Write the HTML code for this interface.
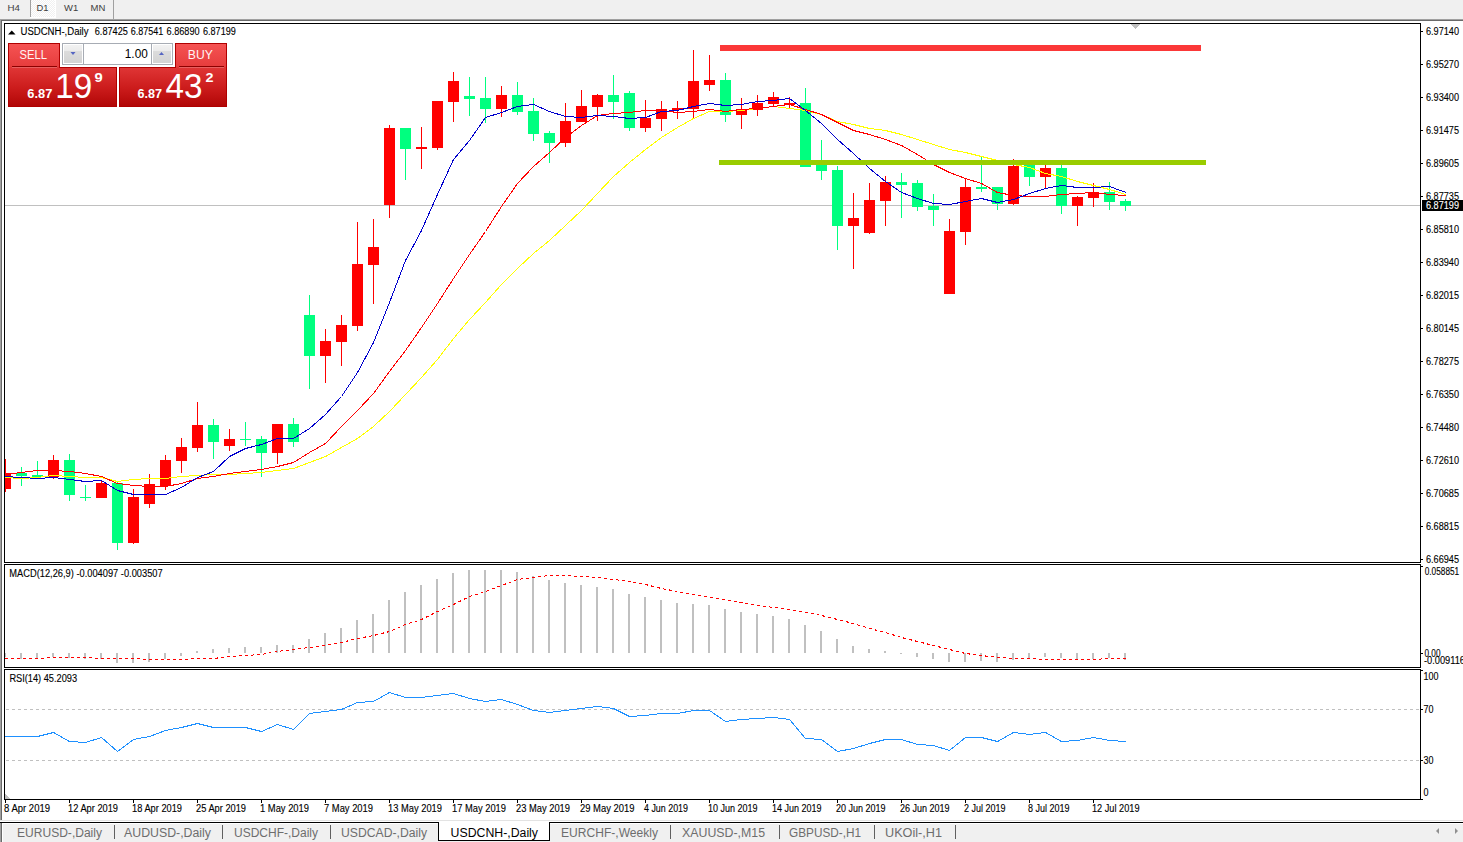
<!DOCTYPE html>
<html><head><meta charset="utf-8"><title>USDCNH-,Daily</title>
<style>html,body{margin:0;padding:0;background:#fff;overflow:hidden;}svg{display:block;}text{shape-rendering:auto;}</style>
</head><body>
<svg width="1463" height="842" viewBox="0 0 1463 842" shape-rendering="crispEdges" font-family='"Liberation Sans", sans-serif'>
<defs>
<pattern id="chk" width="2" height="2" patternUnits="userSpaceOnUse"><rect width="2" height="2" fill="#f0f0f0"/><rect width="1" height="1" fill="#ffffff"/><rect x="1" y="1" width="1" height="1" fill="#ffffff"/></pattern>
<linearGradient id="tabg" x1="0" y1="0" x2="0" y2="1"><stop offset="0" stop-color="#f65454"/><stop offset="1" stop-color="#e63c3c"/></linearGradient>
<linearGradient id="prg" gradientUnits="userSpaceOnUse" x1="0" y1="43" x2="0" y2="107"><stop offset="0.375" stop-color="#e03636"/><stop offset="0.7" stop-color="#cc1c1c"/><stop offset="1" stop-color="#b00606"/></linearGradient>
<linearGradient id="btng" x1="0" y1="0" x2="0" y2="1"><stop offset="0" stop-color="#f2f2f2"/><stop offset="0.33" stop-color="#ebebeb"/><stop offset="0.34" stop-color="#dcdcdc"/><stop offset="1" stop-color="#d3d3d3"/></linearGradient>
<clipPath id="cmain"><rect x="5" y="24" width="1415" height="538"/></clipPath>
<clipPath id="cmacd"><rect x="5" y="565" width="1415" height="102"/></clipPath>
<clipPath id="crsi"><rect x="5" y="670" width="1415" height="129"/></clipPath>
</defs>
<rect x="0" y="0" width="1463" height="842" fill="#ffffff"/>
<rect x="0" y="0" width="1463" height="19" fill="#f0f0f0"/>
<rect x="31" y="0" width="24" height="17" fill="url(#chk)"/>
<rect x="30" y="0" width="1" height="17" fill="#a0a0a0"/>
<rect x="55" y="0" width="1" height="18" fill="#ffffff"/>
<rect x="30" y="17" width="26" height="1" fill="#ffffff"/>
<rect x="113" y="0" width="1" height="19" fill="#a0a0a0"/>
<text x="7.6" y="11" font-size="9.5" fill="#404040" textLength="12.4" lengthAdjust="spacingAndGlyphs">H4</text>
<text x="36.4" y="11" font-size="9.5" fill="#404040" textLength="12.0" lengthAdjust="spacingAndGlyphs">D1</text>
<text x="64" y="11" font-size="9.5" fill="#404040" textLength="14.2" lengthAdjust="spacingAndGlyphs">W1</text>
<text x="90.5" y="11" font-size="9.5" fill="#404040" textLength="14.8" lengthAdjust="spacingAndGlyphs">MN</text>
<rect x="0" y="19" width="1463" height="1" fill="#a0a0a0"/>
<rect x="1" y="20" width="1462" height="1" fill="#696969"/>
<rect x="0" y="19" width="1" height="802" fill="#a0a0a0"/>
<rect x="1" y="20" width="1" height="801" fill="#696969"/>
<rect x="4" y="23" width="1417" height="1" fill="#000"/>
<rect x="4" y="562" width="1417" height="1" fill="#000"/>
<rect x="4" y="23" width="1" height="540" fill="#000"/>
<rect x="1420" y="23" width="1" height="540" fill="#000"/>
<rect x="4" y="564" width="1417" height="1" fill="#000"/>
<rect x="4" y="667" width="1417" height="1" fill="#000"/>
<rect x="4" y="564" width="1" height="104" fill="#000"/>
<rect x="1420" y="564" width="1" height="104" fill="#000"/>
<rect x="4" y="669" width="1417" height="1" fill="#000"/>
<rect x="4" y="799" width="1417" height="1" fill="#000"/>
<rect x="4" y="669" width="1" height="131" fill="#000"/>
<rect x="1420" y="669" width="1" height="131" fill="#000"/>
<g clip-path="url(#cmain)">
<rect x="5" y="205" width="1415" height="1" fill="#c0c0c0"/>
<rect x="5" y="459" width="1" height="33" fill="#ff0000"/>
<rect x="0" y="473" width="11" height="16" fill="#ff0000"/>
<rect x="21" y="467" width="1" height="19" fill="#00ff7f"/>
<rect x="16" y="473" width="11" height="3" fill="#00ff7f"/>
<rect x="37" y="461" width="1" height="16" fill="#00ff7f"/>
<rect x="32" y="475" width="11" height="2" fill="#00ff7f"/>
<rect x="53" y="455" width="1" height="24" fill="#ff0000"/>
<rect x="48" y="460" width="11" height="17" fill="#ff0000"/>
<rect x="69" y="454" width="1" height="47" fill="#00ff7f"/>
<rect x="64" y="460" width="11" height="35" fill="#00ff7f"/>
<rect x="85" y="485" width="1" height="16" fill="#00ff7f"/>
<rect x="80" y="497" width="11" height="1" fill="#00ff7f"/>
<rect x="101" y="481" width="1" height="17" fill="#ff0000"/>
<rect x="96" y="483" width="11" height="15" fill="#ff0000"/>
<rect x="117" y="482" width="1" height="68" fill="#00ff7f"/>
<rect x="112" y="483" width="11" height="60" fill="#00ff7f"/>
<rect x="133" y="489" width="1" height="55" fill="#ff0000"/>
<rect x="128" y="497" width="11" height="46" fill="#ff0000"/>
<rect x="149" y="474" width="1" height="34" fill="#ff0000"/>
<rect x="144" y="484" width="11" height="20" fill="#ff0000"/>
<rect x="165" y="455" width="1" height="35" fill="#ff0000"/>
<rect x="160" y="460" width="11" height="26" fill="#ff0000"/>
<rect x="181" y="438" width="1" height="35" fill="#ff0000"/>
<rect x="176" y="447" width="11" height="14" fill="#ff0000"/>
<rect x="197" y="402" width="1" height="50" fill="#ff0000"/>
<rect x="192" y="425" width="11" height="23" fill="#ff0000"/>
<rect x="213" y="419" width="1" height="40" fill="#00ff7f"/>
<rect x="208" y="425" width="11" height="17" fill="#00ff7f"/>
<rect x="229" y="429" width="1" height="22" fill="#ff0000"/>
<rect x="224" y="439" width="11" height="7" fill="#ff0000"/>
<rect x="245" y="422" width="1" height="24" fill="#00ff7f"/>
<rect x="240" y="439" width="11" height="1" fill="#00ff7f"/>
<rect x="261" y="436" width="1" height="41" fill="#00ff7f"/>
<rect x="256" y="439" width="11" height="14" fill="#00ff7f"/>
<rect x="277" y="424" width="1" height="40" fill="#ff0000"/>
<rect x="272" y="424" width="11" height="29" fill="#ff0000"/>
<rect x="293" y="418" width="1" height="29" fill="#00ff7f"/>
<rect x="288" y="424" width="11" height="18" fill="#00ff7f"/>
<rect x="309" y="295" width="1" height="94" fill="#00ff7f"/>
<rect x="304" y="315" width="11" height="41" fill="#00ff7f"/>
<rect x="325" y="329" width="1" height="54" fill="#ff0000"/>
<rect x="320" y="341" width="11" height="15" fill="#ff0000"/>
<rect x="341" y="315" width="1" height="51" fill="#ff0000"/>
<rect x="336" y="325" width="11" height="17" fill="#ff0000"/>
<rect x="357" y="222" width="1" height="109" fill="#ff0000"/>
<rect x="352" y="264" width="11" height="62" fill="#ff0000"/>
<rect x="373" y="219" width="1" height="85" fill="#ff0000"/>
<rect x="368" y="247" width="11" height="18" fill="#ff0000"/>
<rect x="389" y="125" width="1" height="93" fill="#ff0000"/>
<rect x="384" y="128" width="11" height="77" fill="#ff0000"/>
<rect x="405" y="128" width="1" height="52" fill="#00ff7f"/>
<rect x="400" y="128" width="11" height="21" fill="#00ff7f"/>
<rect x="421" y="127" width="1" height="42" fill="#ff0000"/>
<rect x="416" y="147" width="11" height="2" fill="#ff0000"/>
<rect x="437" y="101" width="1" height="49" fill="#ff0000"/>
<rect x="432" y="101" width="11" height="47" fill="#ff0000"/>
<rect x="453" y="72" width="1" height="50" fill="#ff0000"/>
<rect x="448" y="81" width="11" height="21" fill="#ff0000"/>
<rect x="469" y="77" width="1" height="39" fill="#00ff7f"/>
<rect x="464" y="96" width="11" height="3" fill="#00ff7f"/>
<rect x="485" y="77" width="1" height="46" fill="#00ff7f"/>
<rect x="480" y="98" width="11" height="11" fill="#00ff7f"/>
<rect x="501" y="86" width="1" height="31" fill="#ff0000"/>
<rect x="496" y="95" width="11" height="14" fill="#ff0000"/>
<rect x="517" y="82" width="1" height="33" fill="#00ff7f"/>
<rect x="512" y="95" width="11" height="17" fill="#00ff7f"/>
<rect x="533" y="98" width="1" height="43" fill="#00ff7f"/>
<rect x="528" y="111" width="11" height="23" fill="#00ff7f"/>
<rect x="549" y="131" width="1" height="32" fill="#00ff7f"/>
<rect x="544" y="133" width="11" height="10" fill="#00ff7f"/>
<rect x="565" y="103" width="1" height="44" fill="#ff0000"/>
<rect x="560" y="121" width="11" height="22" fill="#ff0000"/>
<rect x="581" y="90" width="1" height="32" fill="#ff0000"/>
<rect x="576" y="106" width="11" height="16" fill="#ff0000"/>
<rect x="597" y="94" width="1" height="27" fill="#ff0000"/>
<rect x="592" y="95" width="11" height="12" fill="#ff0000"/>
<rect x="613" y="75" width="1" height="44" fill="#00ff7f"/>
<rect x="608" y="95" width="11" height="7" fill="#00ff7f"/>
<rect x="629" y="91" width="1" height="40" fill="#00ff7f"/>
<rect x="624" y="93" width="11" height="35" fill="#00ff7f"/>
<rect x="645" y="100" width="1" height="32" fill="#ff0000"/>
<rect x="640" y="118" width="11" height="10" fill="#ff0000"/>
<rect x="661" y="101" width="1" height="30" fill="#ff0000"/>
<rect x="656" y="109" width="11" height="10" fill="#ff0000"/>
<rect x="677" y="101" width="1" height="18" fill="#ff0000"/>
<rect x="672" y="108" width="11" height="2" fill="#ff0000"/>
<rect x="693" y="50" width="1" height="69" fill="#ff0000"/>
<rect x="688" y="81" width="11" height="28" fill="#ff0000"/>
<rect x="709" y="55" width="1" height="36" fill="#ff0000"/>
<rect x="704" y="80" width="11" height="5" fill="#ff0000"/>
<rect x="725" y="73" width="1" height="49" fill="#00ff7f"/>
<rect x="720" y="80" width="11" height="35" fill="#00ff7f"/>
<rect x="741" y="98" width="1" height="31" fill="#ff0000"/>
<rect x="736" y="109" width="11" height="6" fill="#ff0000"/>
<rect x="757" y="95" width="1" height="21" fill="#ff0000"/>
<rect x="752" y="103" width="11" height="7" fill="#ff0000"/>
<rect x="773" y="92" width="1" height="14" fill="#ff0000"/>
<rect x="768" y="97" width="11" height="7" fill="#ff0000"/>
<rect x="789" y="97" width="1" height="11" fill="#ff0000"/>
<rect x="784" y="103" width="11" height="2" fill="#ff0000"/>
<rect x="805" y="88" width="1" height="79" fill="#00ff7f"/>
<rect x="800" y="103" width="11" height="64" fill="#00ff7f"/>
<rect x="821" y="140" width="1" height="40" fill="#00ff7f"/>
<rect x="816" y="163" width="11" height="8" fill="#00ff7f"/>
<rect x="837" y="166" width="1" height="84" fill="#00ff7f"/>
<rect x="832" y="170" width="11" height="56" fill="#00ff7f"/>
<rect x="853" y="193" width="1" height="76" fill="#ff0000"/>
<rect x="848" y="218" width="11" height="8" fill="#ff0000"/>
<rect x="869" y="183" width="1" height="51" fill="#ff0000"/>
<rect x="864" y="200" width="11" height="33" fill="#ff0000"/>
<rect x="885" y="176" width="1" height="50" fill="#ff0000"/>
<rect x="880" y="182" width="11" height="19" fill="#ff0000"/>
<rect x="901" y="173" width="1" height="45" fill="#00ff7f"/>
<rect x="896" y="182" width="11" height="3" fill="#00ff7f"/>
<rect x="917" y="180" width="1" height="31" fill="#00ff7f"/>
<rect x="912" y="183" width="11" height="24" fill="#00ff7f"/>
<rect x="933" y="194" width="1" height="32" fill="#00ff7f"/>
<rect x="928" y="206" width="11" height="4" fill="#00ff7f"/>
<rect x="949" y="219" width="1" height="75" fill="#ff0000"/>
<rect x="944" y="231" width="11" height="63" fill="#ff0000"/>
<rect x="965" y="178" width="1" height="67" fill="#ff0000"/>
<rect x="960" y="187" width="11" height="45" fill="#ff0000"/>
<rect x="981" y="157" width="1" height="35" fill="#00ff7f"/>
<rect x="976" y="187" width="11" height="2" fill="#00ff7f"/>
<rect x="997" y="187" width="1" height="23" fill="#00ff7f"/>
<rect x="992" y="187" width="11" height="17" fill="#00ff7f"/>
<rect x="1013" y="159" width="1" height="46" fill="#ff0000"/>
<rect x="1008" y="166" width="11" height="38" fill="#ff0000"/>
<rect x="1029" y="161" width="1" height="25" fill="#00ff7f"/>
<rect x="1024" y="163" width="11" height="14" fill="#00ff7f"/>
<rect x="1045" y="165" width="1" height="23" fill="#ff0000"/>
<rect x="1040" y="168" width="11" height="9" fill="#ff0000"/>
<rect x="1061" y="165" width="1" height="49" fill="#00ff7f"/>
<rect x="1056" y="168" width="11" height="38" fill="#00ff7f"/>
<rect x="1077" y="196" width="1" height="30" fill="#ff0000"/>
<rect x="1072" y="197" width="11" height="9" fill="#ff0000"/>
<rect x="1093" y="183" width="1" height="24" fill="#ff0000"/>
<rect x="1088" y="192" width="11" height="6" fill="#ff0000"/>
<rect x="1109" y="182" width="1" height="28" fill="#00ff7f"/>
<rect x="1104" y="192" width="11" height="10" fill="#00ff7f"/>
<rect x="1125" y="199" width="1" height="12" fill="#00ff7f"/>
<rect x="1120" y="201" width="11" height="5" fill="#00ff7f"/>
<polyline points="4.0,477.5 21.5,478.5 37.5,477.5 53.5,475.5 69.5,476.5 85.5,477.5 101.5,477.5 117.5,481.5 133.5,479.5 149.5,478.5 165.5,478.5 181.5,476.5 197.5,475.5 213.5,474.5 229.5,474.5 245.5,473.5 261.5,472.5 277.5,470.5 293.5,468.5 309.5,462.5 325.5,456.5 341.5,447.5 357.5,438.5 373.5,426.5 389.5,411.5 405.5,394.5 421.5,377.5 437.5,359.5 453.5,338.5 469.5,319.5 485.5,302.5 501.5,284.5 517.5,268.5 533.5,253.5 549.5,240.5 565.5,225.5 581.5,210.5 597.5,193.5 613.5,176.5 629.5,162.5 645.5,149.5 661.5,137.5 677.5,127.5 693.5,118.5 709.5,111.5 725.5,111.5 741.5,110.5 757.5,108.5 773.5,106.5 789.5,108.5 805.5,110.5 821.5,114.5 837.5,121.5 853.5,124.5 869.5,128.5 885.5,130.5 901.5,134.5 917.5,139.5 933.5,144.5 949.5,149.5 965.5,152.5 981.5,156.5 997.5,160.5 1013.5,164.5 1029.5,167.5 1045.5,173.5 1061.5,176.5 1077.5,181.5 1093.5,185.5 1109.5,189.5 1126.0,194.5" fill="none" stroke="#ffff00" stroke-width="1"/>
<polyline points="4.0,474.5 21.5,472.5 37.5,470.5 53.5,470.5 69.5,471.5 85.5,473.5 101.5,476.5 117.5,483.5 133.5,485.5 149.5,486.5 165.5,486.5 181.5,483.5 197.5,478.5 213.5,476.5 229.5,473.5 245.5,471.5 261.5,469.5 277.5,466.5 293.5,462.5 309.5,452.5 325.5,443.5 341.5,426.5 357.5,410.5 373.5,393.5 389.5,371.5 405.5,350.5 421.5,327.5 437.5,303.5 453.5,278.5 469.5,254.5 485.5,231.5 501.5,206.5 517.5,183.5 533.5,166.5 549.5,152.5 565.5,137.5 581.5,125.5 597.5,115.5 613.5,113.5 629.5,112.5 645.5,110.5 661.5,110.5 677.5,112.5 693.5,111.5 709.5,109.5 725.5,111.5 741.5,109.5 757.5,108.5 773.5,106.5 789.5,104.5 805.5,109.5 821.5,114.5 837.5,122.5 853.5,130.5 869.5,134.5 885.5,139.5 901.5,145.5 917.5,154.5 933.5,164.5 949.5,172.5 965.5,178.5 981.5,183.5 997.5,192.5 1013.5,195.5 1029.5,196.5 1045.5,196.5 1061.5,194.5 1077.5,193.5 1093.5,192.5 1109.5,194.5 1126.0,195.5" fill="none" stroke="#ff0000" stroke-width="1"/>
<polyline points="4.0,476.5 21.5,477.5 37.5,478.5 53.5,477.5 69.5,479.5 85.5,481.5 101.5,480.5 117.5,490.5 133.5,494.5 149.5,494.5 165.5,494.5 181.5,487.5 197.5,477.5 213.5,471.5 229.5,456.5 245.5,448.5 261.5,444.5 277.5,438.5 293.5,438.5 309.5,428.5 325.5,414.5 341.5,396.5 357.5,372.5 373.5,342.5 389.5,302.5 405.5,260.5 421.5,230.5 437.5,194.5 453.5,159.5 469.5,140.5 485.5,117.5 501.5,112.5 517.5,106.5 533.5,104.5 549.5,111.5 565.5,116.5 581.5,117.5 597.5,115.5 613.5,116.5 629.5,118.5 645.5,117.5 661.5,111.5 677.5,110.5 693.5,106.5 709.5,103.5 725.5,105.5 741.5,104.5 757.5,101.5 773.5,100.5 789.5,98.5 805.5,110.5 821.5,123.5 837.5,139.5 853.5,153.5 869.5,168.5 885.5,181.5 901.5,192.5 917.5,198.5 933.5,203.5 949.5,204.5 965.5,201.5 981.5,198.5 997.5,202.5 1013.5,199.5 1029.5,193.5 1045.5,188.5 1061.5,185.5 1077.5,187.5 1093.5,187.5 1109.5,186.5 1126.0,192.5" fill="none" stroke="#0000cd" stroke-width="1"/>
<rect x="720" y="45" width="481" height="6" fill="#fb3838"/>
<rect x="719" y="160" width="487" height="5" fill="#99cc00"/>
<polygon points="1130,24 1140,24 1135,29" fill="#c0c0c0"/>
</g>
<polygon points="8,34.5 15.5,34.5 11.75,30.5" fill="#000" shape-rendering="auto"/>
<text x="20.5" y="35" font-size="10" fill="#000" textLength="68" lengthAdjust="spacingAndGlyphs" stroke="#000" stroke-width="0.12">USDCNH-,Daily</text>
<text x="94.8" y="35" font-size="10" fill="#000" textLength="33.0" lengthAdjust="spacingAndGlyphs" stroke="#000" stroke-width="0.12">6.87425</text>
<text x="130.7" y="35" font-size="10" fill="#000" textLength="32.5" lengthAdjust="spacingAndGlyphs" stroke="#000" stroke-width="0.12">6.87541</text>
<text x="166.6" y="35" font-size="10" fill="#000" textLength="33.0" lengthAdjust="spacingAndGlyphs" stroke="#000" stroke-width="0.12">6.86890</text>
<text x="203" y="35" font-size="10" fill="#000" textLength="32.8" lengthAdjust="spacingAndGlyphs" stroke="#000" stroke-width="0.12">6.87199</text>
<path d="M8,43 H60 V67 H117 V107 H8 Z" fill="url(#prg)"/>
<rect x="8" y="43" width="52" height="24" fill="url(#tabg)"/>
<path d="M8.5,43.5 H59.5 V67.5 H116.5 V106.5 H8.5 Z" fill="none" stroke="#b00000" stroke-width="1"/>
<rect x="12" y="66" width="45" height="1" fill="#8c0000"/>
<rect x="12" y="67" width="45" height="1" fill="#e86060"/>
<text x="19.6" y="59" font-size="12.5" fill="#fff4f4" textLength="27.5" lengthAdjust="spacingAndGlyphs">SELL</text>
<text x="27.3" y="98" font-size="12.5" fill="#ffffff" textLength="25" lengthAdjust="spacingAndGlyphs" font-weight="bold">6.87</text>
<text x="55.2" y="98" font-size="34.5" fill="#ffffff" textLength="37" lengthAdjust="spacingAndGlyphs">19</text>
<text x="94.4" y="82" font-size="12.5" fill="#ffffff" textLength="8.2" lengthAdjust="spacingAndGlyphs" font-weight="bold">9</text>
<path d="M175,43 H227 V107 H119 V67 H175 Z" fill="url(#prg)"/>
<rect x="175" y="43" width="52" height="24" fill="url(#tabg)"/>
<path d="M175.5,43.5 H226.5 V106.5 H119.5 V67.5 H175.5 Z" fill="none" stroke="#b00000" stroke-width="1"/>
<rect x="179" y="66" width="45" height="1" fill="#8c0000"/>
<rect x="179" y="67" width="45" height="1" fill="#e86060"/>
<text x="187.8" y="59" font-size="12.5" fill="#fff4f4" textLength="25" lengthAdjust="spacingAndGlyphs">BUY</text>
<text x="137.6" y="98" font-size="12.5" fill="#ffffff" textLength="24.5" lengthAdjust="spacingAndGlyphs" font-weight="bold">6.87</text>
<text x="165.5" y="98" font-size="34.5" fill="#ffffff" textLength="37" lengthAdjust="spacingAndGlyphs">43</text>
<text x="205.6" y="82" font-size="12.5" fill="#ffffff" textLength="8" lengthAdjust="spacingAndGlyphs" font-weight="bold">2</text>
<rect x="62" y="43" width="111" height="22" fill="#a7acb4"/>
<rect x="63" y="44" width="109" height="20" fill="#ffffff"/>
<rect x="64" y="45" width="18" height="18" fill="url(#btng)"/>
<rect x="83" y="44" width="1" height="20" fill="#a7acb4"/>
<rect x="153" y="45" width="18" height="18" fill="url(#btng)"/>
<rect x="151" y="44" width="1" height="20" fill="#a7acb4"/>
<polygon points="70.5,52 75.5,52 73,55" fill="#5565c2" shape-rendering="auto"/>
<polygon points="159,55 164,55 161.5,52" fill="#5565c2" shape-rendering="auto"/>
<text x="124.8" y="58" font-size="12.5" fill="#000" textLength="23" lengthAdjust="spacingAndGlyphs">1.00</text>
<rect x="1421" y="31" width="2" height="1" fill="#000"/>
<text x="1426" y="35" font-size="10" fill="#000" textLength="33" lengthAdjust="spacingAndGlyphs" stroke="#000" stroke-width="0.12">6.97140</text>
<rect x="1421" y="64" width="2" height="1" fill="#000"/>
<text x="1426" y="68" font-size="10" fill="#000" textLength="33" lengthAdjust="spacingAndGlyphs" stroke="#000" stroke-width="0.12">6.95270</text>
<rect x="1421" y="97" width="2" height="1" fill="#000"/>
<text x="1426" y="101" font-size="10" fill="#000" textLength="33" lengthAdjust="spacingAndGlyphs" stroke="#000" stroke-width="0.12">6.93400</text>
<rect x="1421" y="130" width="2" height="1" fill="#000"/>
<text x="1426" y="134" font-size="10" fill="#000" textLength="33" lengthAdjust="spacingAndGlyphs" stroke="#000" stroke-width="0.12">6.91475</text>
<rect x="1421" y="163" width="2" height="1" fill="#000"/>
<text x="1426" y="167" font-size="10" fill="#000" textLength="33" lengthAdjust="spacingAndGlyphs" stroke="#000" stroke-width="0.12">6.89605</text>
<rect x="1421" y="196" width="2" height="1" fill="#000"/>
<text x="1426" y="200" font-size="10" fill="#000" textLength="33" lengthAdjust="spacingAndGlyphs" stroke="#000" stroke-width="0.12">6.87735</text>
<rect x="1421" y="229" width="2" height="1" fill="#000"/>
<text x="1426" y="233" font-size="10" fill="#000" textLength="33" lengthAdjust="spacingAndGlyphs" stroke="#000" stroke-width="0.12">6.85810</text>
<rect x="1421" y="262" width="2" height="1" fill="#000"/>
<text x="1426" y="266" font-size="10" fill="#000" textLength="33" lengthAdjust="spacingAndGlyphs" stroke="#000" stroke-width="0.12">6.83940</text>
<rect x="1421" y="295" width="2" height="1" fill="#000"/>
<text x="1426" y="299" font-size="10" fill="#000" textLength="33" lengthAdjust="spacingAndGlyphs" stroke="#000" stroke-width="0.12">6.82015</text>
<rect x="1421" y="328" width="2" height="1" fill="#000"/>
<text x="1426" y="332" font-size="10" fill="#000" textLength="33" lengthAdjust="spacingAndGlyphs" stroke="#000" stroke-width="0.12">6.80145</text>
<rect x="1421" y="361" width="2" height="1" fill="#000"/>
<text x="1426" y="365" font-size="10" fill="#000" textLength="33" lengthAdjust="spacingAndGlyphs" stroke="#000" stroke-width="0.12">6.78275</text>
<rect x="1421" y="394" width="2" height="1" fill="#000"/>
<text x="1426" y="398" font-size="10" fill="#000" textLength="33" lengthAdjust="spacingAndGlyphs" stroke="#000" stroke-width="0.12">6.76350</text>
<rect x="1421" y="427" width="2" height="1" fill="#000"/>
<text x="1426" y="431" font-size="10" fill="#000" textLength="33" lengthAdjust="spacingAndGlyphs" stroke="#000" stroke-width="0.12">6.74480</text>
<rect x="1421" y="460" width="2" height="1" fill="#000"/>
<text x="1426" y="464" font-size="10" fill="#000" textLength="33" lengthAdjust="spacingAndGlyphs" stroke="#000" stroke-width="0.12">6.72610</text>
<rect x="1421" y="493" width="2" height="1" fill="#000"/>
<text x="1426" y="497" font-size="10" fill="#000" textLength="33" lengthAdjust="spacingAndGlyphs" stroke="#000" stroke-width="0.12">6.70685</text>
<rect x="1421" y="526" width="2" height="1" fill="#000"/>
<text x="1426" y="530" font-size="10" fill="#000" textLength="33" lengthAdjust="spacingAndGlyphs" stroke="#000" stroke-width="0.12">6.68815</text>
<rect x="1421" y="559" width="2" height="1" fill="#000"/>
<text x="1426" y="563" font-size="10" fill="#000" textLength="33" lengthAdjust="spacingAndGlyphs" stroke="#000" stroke-width="0.12">6.66945</text>
<rect x="1422" y="200" width="41" height="11" fill="#000"/>
<text x="1426" y="209" font-size="10" fill="#ffffff" textLength="33" lengthAdjust="spacingAndGlyphs" stroke="#ffffff" stroke-width="0.12">6.87199</text>
<g clip-path="url(#cmacd)">
<rect x="4" y="653" width="2" height="4" fill="#c0c0c0"/>
<rect x="20" y="653" width="2" height="6" fill="#c0c0c0"/>
<rect x="36" y="653" width="2" height="5" fill="#c0c0c0"/>
<rect x="52" y="653" width="2" height="4" fill="#c0c0c0"/>
<rect x="68" y="653" width="2" height="5" fill="#c0c0c0"/>
<rect x="84" y="653" width="2" height="6" fill="#c0c0c0"/>
<rect x="100" y="653" width="2" height="6" fill="#c0c0c0"/>
<rect x="116" y="653" width="2" height="10" fill="#c0c0c0"/>
<rect x="132" y="653" width="2" height="10" fill="#c0c0c0"/>
<rect x="148" y="653" width="2" height="9" fill="#c0c0c0"/>
<rect x="164" y="653" width="2" height="6" fill="#c0c0c0"/>
<rect x="180" y="653" width="2" height="3" fill="#c0c0c0"/>
<rect x="196" y="651" width="2" height="2" fill="#c0c0c0"/>
<rect x="212" y="649" width="2" height="4" fill="#c0c0c0"/>
<rect x="228" y="648" width="2" height="5" fill="#c0c0c0"/>
<rect x="244" y="647" width="2" height="6" fill="#c0c0c0"/>
<rect x="260" y="647" width="2" height="6" fill="#c0c0c0"/>
<rect x="276" y="645" width="2" height="8" fill="#c0c0c0"/>
<rect x="292" y="645" width="2" height="8" fill="#c0c0c0"/>
<rect x="308" y="639" width="2" height="14" fill="#c0c0c0"/>
<rect x="324" y="633" width="2" height="20" fill="#c0c0c0"/>
<rect x="340" y="628" width="2" height="25" fill="#c0c0c0"/>
<rect x="356" y="620" width="2" height="33" fill="#c0c0c0"/>
<rect x="372" y="614" width="2" height="39" fill="#c0c0c0"/>
<rect x="388" y="600" width="2" height="53" fill="#c0c0c0"/>
<rect x="404" y="592" width="2" height="61" fill="#c0c0c0"/>
<rect x="420" y="585" width="2" height="68" fill="#c0c0c0"/>
<rect x="436" y="579" width="2" height="74" fill="#c0c0c0"/>
<rect x="452" y="573" width="2" height="80" fill="#c0c0c0"/>
<rect x="468" y="570" width="2" height="83" fill="#c0c0c0"/>
<rect x="484" y="570" width="2" height="83" fill="#c0c0c0"/>
<rect x="500" y="570" width="2" height="83" fill="#c0c0c0"/>
<rect x="516" y="572" width="2" height="81" fill="#c0c0c0"/>
<rect x="532" y="576" width="2" height="77" fill="#c0c0c0"/>
<rect x="548" y="580" width="2" height="73" fill="#c0c0c0"/>
<rect x="564" y="583" width="2" height="70" fill="#c0c0c0"/>
<rect x="580" y="585" width="2" height="68" fill="#c0c0c0"/>
<rect x="596" y="587" width="2" height="66" fill="#c0c0c0"/>
<rect x="612" y="589" width="2" height="64" fill="#c0c0c0"/>
<rect x="628" y="594" width="2" height="59" fill="#c0c0c0"/>
<rect x="644" y="597" width="2" height="56" fill="#c0c0c0"/>
<rect x="660" y="600" width="2" height="53" fill="#c0c0c0"/>
<rect x="676" y="603" width="2" height="50" fill="#c0c0c0"/>
<rect x="692" y="604" width="2" height="49" fill="#c0c0c0"/>
<rect x="708" y="605" width="2" height="48" fill="#c0c0c0"/>
<rect x="724" y="609" width="2" height="44" fill="#c0c0c0"/>
<rect x="740" y="612" width="2" height="41" fill="#c0c0c0"/>
<rect x="756" y="614" width="2" height="39" fill="#c0c0c0"/>
<rect x="772" y="616" width="2" height="37" fill="#c0c0c0"/>
<rect x="788" y="619" width="2" height="34" fill="#c0c0c0"/>
<rect x="804" y="625" width="2" height="28" fill="#c0c0c0"/>
<rect x="820" y="631" width="2" height="22" fill="#c0c0c0"/>
<rect x="836" y="639" width="2" height="14" fill="#c0c0c0"/>
<rect x="852" y="646" width="2" height="7" fill="#c0c0c0"/>
<rect x="868" y="649" width="2" height="4" fill="#c0c0c0"/>
<rect x="884" y="651" width="2" height="2" fill="#c0c0c0"/>
<rect x="900" y="653" width="2" height="1" fill="#c0c0c0"/>
<rect x="916" y="653" width="2" height="4" fill="#c0c0c0"/>
<rect x="932" y="653" width="2" height="6" fill="#c0c0c0"/>
<rect x="948" y="653" width="2" height="9" fill="#c0c0c0"/>
<rect x="964" y="653" width="2" height="9" fill="#c0c0c0"/>
<rect x="980" y="653" width="2" height="8" fill="#c0c0c0"/>
<rect x="996" y="653" width="2" height="9" fill="#c0c0c0"/>
<rect x="1012" y="653" width="2" height="7" fill="#c0c0c0"/>
<rect x="1028" y="653" width="2" height="5" fill="#c0c0c0"/>
<rect x="1044" y="653" width="2" height="4" fill="#c0c0c0"/>
<rect x="1060" y="653" width="2" height="5" fill="#c0c0c0"/>
<rect x="1076" y="653" width="2" height="6" fill="#c0c0c0"/>
<rect x="1092" y="653" width="2" height="6" fill="#c0c0c0"/>
<rect x="1108" y="653" width="2" height="5" fill="#c0c0c0"/>
<rect x="1124" y="653" width="2" height="7" fill="#c0c0c0"/>
<polyline points="5.0,658.5 21.5,658.5 37.5,658.5 53.5,657.5 69.5,657.5 85.5,657.5 101.5,658.5 117.5,658.5 133.5,658.5 149.5,659.5 165.5,659.5 181.5,659.5 197.5,658.5 213.5,658.5 229.5,656.5 245.5,655.5 261.5,654.5 277.5,651.5 293.5,649.5 309.5,647.5 325.5,645.5 341.5,642.5 357.5,638.5 373.5,635.5 389.5,631.5 405.5,624.5 421.5,619.5 437.5,611.5 453.5,604.5 469.5,596.5 485.5,591.5 501.5,585.5 517.5,579.5 533.5,577.5 549.5,575.5 565.5,575.5 581.5,576.5 597.5,577.5 613.5,579.5 629.5,581.5 645.5,584.5 661.5,588.5 677.5,591.5 693.5,594.5 709.5,597.5 725.5,599.5 741.5,602.5 757.5,605.5 773.5,607.5 789.5,609.5 805.5,612.5 821.5,615.5 837.5,619.5 853.5,623.5 869.5,628.5 885.5,632.5 901.5,637.5 917.5,641.5 933.5,645.5 949.5,649.5 965.5,653.5 981.5,655.5 997.5,657.5 1013.5,658.5 1029.5,658.5 1045.5,659.5 1061.5,659.5 1077.5,659.5 1093.5,659.5 1109.5,658.5 1126.0,658.5" fill="none" stroke="#ff0000" stroke-width="1" stroke-dasharray="3,3"/>
</g>
<text x="9.3" y="577" font-size="10" fill="#000" textLength="153.4" lengthAdjust="spacingAndGlyphs" stroke="#000" stroke-width="0.12">MACD(12,26,9) -0.004097 -0.003507</text>
<rect x="1421" y="566" width="2" height="1" fill="#000"/>
<rect x="1421" y="653" width="2" height="1" fill="#000"/>
<text x="1424.7" y="575" font-size="10" fill="#000" textLength="34.5" lengthAdjust="spacingAndGlyphs" stroke="#000" stroke-width="0.12">0.058851</text>
<text x="1424.5" y="657" font-size="10" fill="#000" textLength="16" lengthAdjust="spacingAndGlyphs" stroke="#000" stroke-width="0.12">0.00</text>
<text x="1424" y="664" font-size="10" fill="#000" textLength="41" lengthAdjust="spacingAndGlyphs" stroke="#000" stroke-width="0.12">-0.009116</text>
<g clip-path="url(#crsi)">
<line x1="6" y1="709.5" x2="1420" y2="709.5" stroke="#c0c0c0" stroke-width="1" stroke-dasharray="3,3"/>
<line x1="6" y1="760.5" x2="1420" y2="760.5" stroke="#c0c0c0" stroke-width="1" stroke-dasharray="3,3"/>
<polyline points="4.0,736.5 21.5,736.5 37.5,736.5 53.5,732.5 69.5,741.5 85.5,742.5 101.5,737.5 117.5,751.5 133.5,739.5 149.5,736.5 165.5,730.5 181.5,727.5 197.5,723.5 213.5,727.5 229.5,727.5 245.5,727.5 261.5,731.5 277.5,724.5 293.5,729.5 309.5,713.5 325.5,711.5 341.5,709.5 357.5,702.5 373.5,701.5 389.5,692.5 405.5,697.5 421.5,697.5 437.5,695.5 453.5,693.5 469.5,698.5 485.5,701.5 501.5,699.5 517.5,704.5 533.5,710.5 549.5,712.5 565.5,710.5 581.5,708.5 597.5,706.5 613.5,708.5 629.5,716.5 645.5,715.5 661.5,713.5 677.5,713.5 693.5,710.5 709.5,710.5 725.5,721.5 741.5,719.5 757.5,718.5 773.5,717.5 789.5,719.5 805.5,738.5 821.5,739.5 837.5,751.5 853.5,748.5 869.5,743.5 885.5,739.5 901.5,739.5 917.5,744.5 933.5,745.5 949.5,750.5 965.5,737.5 981.5,737.5 997.5,741.5 1013.5,732.5 1029.5,734.5 1045.5,732.5 1061.5,741.5 1077.5,740.5 1093.5,737.5 1109.5,740.5 1126.0,741.5" fill="none" stroke="#1e90ff" stroke-width="1"/>
<polygon points="5,794 5,799 10,799" fill="#c0c0c0"/>
</g>
<text x="9.4" y="682" font-size="10" fill="#000" textLength="67.7" lengthAdjust="spacingAndGlyphs" stroke="#000" stroke-width="0.12">RSI(14) 45.2093</text>
<rect x="1421" y="670" width="2" height="1" fill="#000"/>
<text x="1423.5" y="680" font-size="10" fill="#000" textLength="15" lengthAdjust="spacingAndGlyphs" stroke="#000" stroke-width="0.12">100</text>
<rect x="1421" y="709" width="2" height="1" fill="#000"/>
<text x="1423.5" y="713" font-size="10" fill="#000" textLength="10" lengthAdjust="spacingAndGlyphs" stroke="#000" stroke-width="0.12">70</text>
<rect x="1421" y="760" width="2" height="1" fill="#000"/>
<text x="1423.5" y="764" font-size="10" fill="#000" textLength="10" lengthAdjust="spacingAndGlyphs" stroke="#000" stroke-width="0.12">30</text>
<rect x="1421" y="799" width="2" height="1" fill="#000"/>
<text x="1423.5" y="796" font-size="10" fill="#000" textLength="5" lengthAdjust="spacingAndGlyphs" stroke="#000" stroke-width="0.12">0</text>
<rect x="5" y="800" width="1" height="3" fill="#000"/>
<text x="4" y="812" font-size="10" fill="#000" textLength="46" lengthAdjust="spacingAndGlyphs" stroke="#000" stroke-width="0.12">8 Apr 2019</text>
<rect x="69" y="800" width="1" height="3" fill="#000"/>
<text x="68" y="812" font-size="10" fill="#000" textLength="50" lengthAdjust="spacingAndGlyphs" stroke="#000" stroke-width="0.12">12 Apr 2019</text>
<rect x="133" y="800" width="1" height="3" fill="#000"/>
<text x="132" y="812" font-size="10" fill="#000" textLength="50" lengthAdjust="spacingAndGlyphs" stroke="#000" stroke-width="0.12">18 Apr 2019</text>
<rect x="197" y="800" width="1" height="3" fill="#000"/>
<text x="196" y="812" font-size="10" fill="#000" textLength="50" lengthAdjust="spacingAndGlyphs" stroke="#000" stroke-width="0.12">25 Apr 2019</text>
<rect x="261" y="800" width="1" height="3" fill="#000"/>
<text x="260" y="812" font-size="10" fill="#000" textLength="49" lengthAdjust="spacingAndGlyphs" stroke="#000" stroke-width="0.12">1 May 2019</text>
<rect x="325" y="800" width="1" height="3" fill="#000"/>
<text x="324" y="812" font-size="10" fill="#000" textLength="49" lengthAdjust="spacingAndGlyphs" stroke="#000" stroke-width="0.12">7 May 2019</text>
<rect x="389" y="800" width="1" height="3" fill="#000"/>
<text x="388" y="812" font-size="10" fill="#000" textLength="54" lengthAdjust="spacingAndGlyphs" stroke="#000" stroke-width="0.12">13 May 2019</text>
<rect x="453" y="800" width="1" height="3" fill="#000"/>
<text x="452" y="812" font-size="10" fill="#000" textLength="54" lengthAdjust="spacingAndGlyphs" stroke="#000" stroke-width="0.12">17 May 2019</text>
<rect x="517" y="800" width="1" height="3" fill="#000"/>
<text x="516" y="812" font-size="10" fill="#000" textLength="54" lengthAdjust="spacingAndGlyphs" stroke="#000" stroke-width="0.12">23 May 2019</text>
<rect x="581" y="800" width="1" height="3" fill="#000"/>
<text x="580" y="812" font-size="10" fill="#000" textLength="54.5" lengthAdjust="spacingAndGlyphs" stroke="#000" stroke-width="0.12">29 May 2019</text>
<rect x="645" y="800" width="1" height="3" fill="#000"/>
<text x="644" y="812" font-size="10" fill="#000" textLength="44" lengthAdjust="spacingAndGlyphs" stroke="#000" stroke-width="0.12">4 Jun 2019</text>
<rect x="709" y="800" width="1" height="3" fill="#000"/>
<text x="708" y="812" font-size="10" fill="#000" textLength="49.5" lengthAdjust="spacingAndGlyphs" stroke="#000" stroke-width="0.12">10 Jun 2019</text>
<rect x="773" y="800" width="1" height="3" fill="#000"/>
<text x="772" y="812" font-size="10" fill="#000" textLength="49.5" lengthAdjust="spacingAndGlyphs" stroke="#000" stroke-width="0.12">14 Jun 2019</text>
<rect x="837" y="800" width="1" height="3" fill="#000"/>
<text x="836" y="812" font-size="10" fill="#000" textLength="49.5" lengthAdjust="spacingAndGlyphs" stroke="#000" stroke-width="0.12">20 Jun 2019</text>
<rect x="901" y="800" width="1" height="3" fill="#000"/>
<text x="900" y="812" font-size="10" fill="#000" textLength="49.5" lengthAdjust="spacingAndGlyphs" stroke="#000" stroke-width="0.12">26 Jun 2019</text>
<rect x="965" y="800" width="1" height="3" fill="#000"/>
<text x="964" y="812" font-size="10" fill="#000" textLength="41.5" lengthAdjust="spacingAndGlyphs" stroke="#000" stroke-width="0.12">2 Jul 2019</text>
<rect x="1029" y="800" width="1" height="3" fill="#000"/>
<text x="1028" y="812" font-size="10" fill="#000" textLength="41.5" lengthAdjust="spacingAndGlyphs" stroke="#000" stroke-width="0.12">8 Jul 2019</text>
<rect x="1093" y="800" width="1" height="3" fill="#000"/>
<text x="1092" y="812" font-size="10" fill="#000" textLength="47.5" lengthAdjust="spacingAndGlyphs" stroke="#000" stroke-width="0.12">12 Jul 2019</text>
<rect x="0" y="820" width="1463" height="1" fill="#e3e3e3"/>
<rect x="0" y="822" width="1463" height="20" fill="#f0f0f0"/>
<rect x="0" y="822" width="1463" height="1" fill="#000"/>
<rect x="0" y="823" width="1463" height="1" fill="#ffffff"/>
<rect x="0" y="823" width="1" height="19" fill="#a0a0a0"/>
<rect x="1" y="823" width="1" height="19" fill="#696969"/>
<rect x="2" y="824" width="1" height="18" fill="#ffffff"/>
<rect x="438" y="822" width="112" height="19" fill="#000"/>
<rect x="439" y="821" width="110" height="19" fill="#ffffff"/>
<rect x="114" y="825" width="1" height="14" fill="#606060"/>
<rect x="222" y="825" width="1" height="14" fill="#606060"/>
<rect x="330" y="825" width="1" height="14" fill="#606060"/>
<rect x="670" y="825" width="1" height="14" fill="#606060"/>
<rect x="779" y="825" width="1" height="14" fill="#606060"/>
<rect x="874" y="825" width="1" height="14" fill="#606060"/>
<rect x="955" y="825" width="1" height="14" fill="#606060"/>
<text x="17" y="836.5" font-size="12.5" fill="#6d6d6d" textLength="85" lengthAdjust="spacingAndGlyphs">EURUSD-,Daily</text>
<text x="124" y="836.5" font-size="12.5" fill="#6d6d6d" textLength="87" lengthAdjust="spacingAndGlyphs">AUDUSD-,Daily</text>
<text x="234" y="836.5" font-size="12.5" fill="#6d6d6d" textLength="84" lengthAdjust="spacingAndGlyphs">USDCHF-,Daily</text>
<text x="341" y="836.5" font-size="12.5" fill="#6d6d6d" textLength="86" lengthAdjust="spacingAndGlyphs">USDCAD-,Daily</text>
<text x="450.6" y="836.5" font-size="12.5" fill="#000" textLength="87.4" lengthAdjust="spacingAndGlyphs">USDCNH-,Daily</text>
<text x="561" y="836.5" font-size="12.5" fill="#6d6d6d" textLength="97" lengthAdjust="spacingAndGlyphs">EURCHF-,Weekly</text>
<text x="682" y="836.5" font-size="12.5" fill="#6d6d6d" textLength="83" lengthAdjust="spacingAndGlyphs">XAUUSD-,M15</text>
<text x="789" y="836.5" font-size="12.5" fill="#6d6d6d" textLength="72" lengthAdjust="spacingAndGlyphs">GBPUSD-,H1</text>
<text x="885" y="836.5" font-size="12.5" fill="#6d6d6d" textLength="57" lengthAdjust="spacingAndGlyphs">UKOil-,H1</text>
<polygon points="1439,828 1439,834 1436,831" fill="#909090" shape-rendering="auto"/>
<polygon points="1455,828 1455,834 1458,831" fill="#909090" shape-rendering="auto"/>
</svg>
</body></html>
